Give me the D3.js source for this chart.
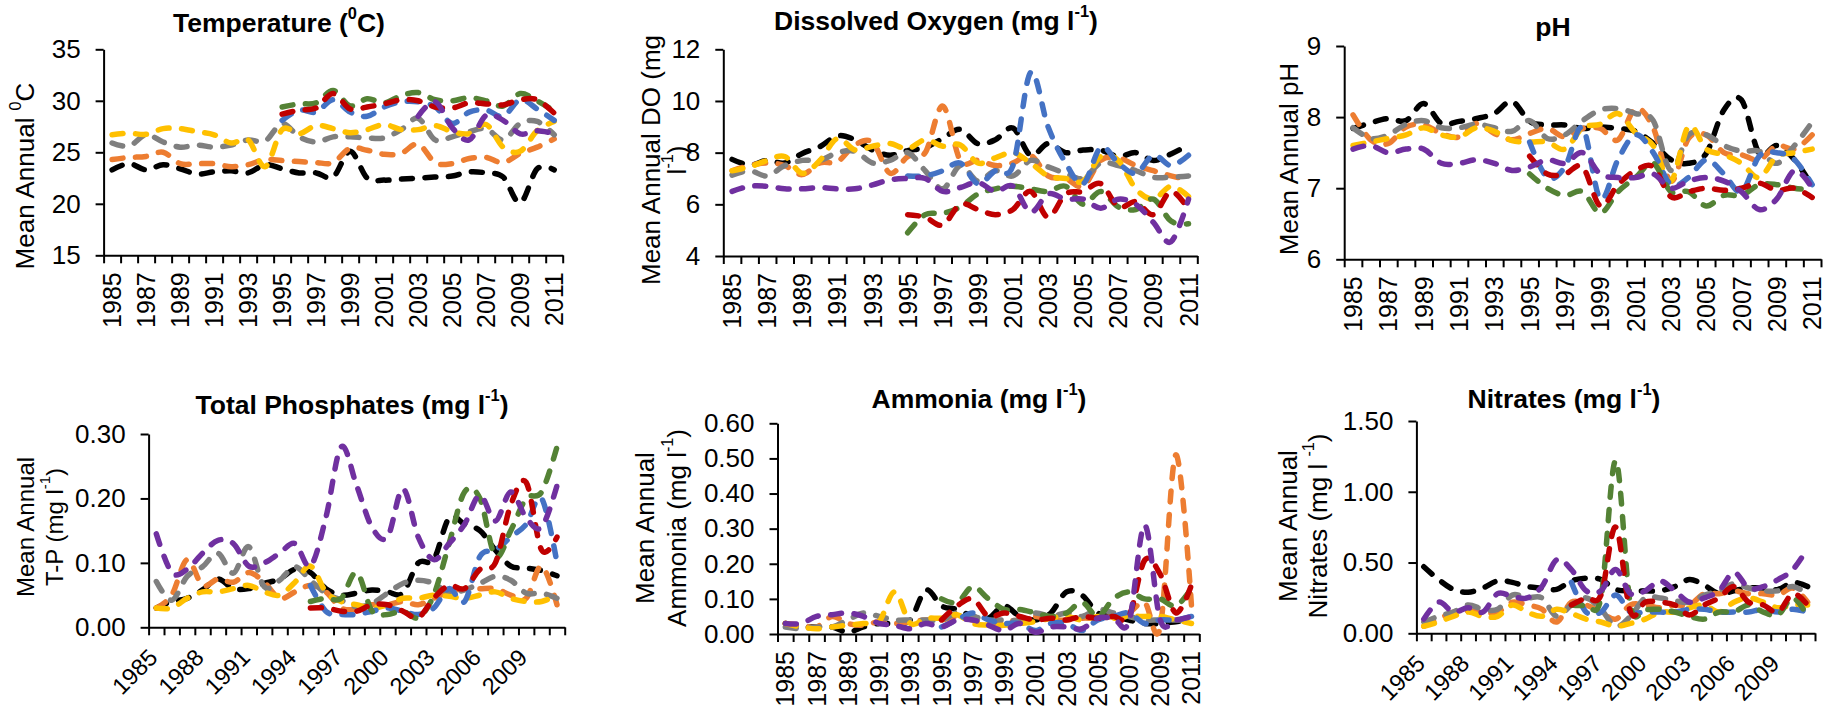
<!DOCTYPE html>
<html>
<head>
<meta charset="utf-8">
<script src="https://cdn.jsdelivr.net/npm/d3@7"></script>
<style>
  html, body { margin: 0; padding: 0; background: #fff; }
  svg { display: block; font-family: "Liberation Sans", Arial, sans-serif; }
</style>
</head>
<body>
<svg id="chart" width="1827" height="709"></svg>
<script>
// ---- categories ----
const years = [1985,1986,1987,1988,1989,1990,1991,1992,1993,1994,1995,1996,1997,1998,1999,
               2000,2001,2002,2003,2004,2005,2006,2007,2008,2009,2010,2011];
const N = null;

// ---- Temperature (°C) ----
const tempBlack  = [23.3,23.9,23.3,23.8,23.4,22.9,23.1,23.2,23.0,23.8, 23.4,23.0,23.0,22.6,25.1,22.5,22.3,22.4,22.5,22.6, 22.7,23.1,23.0,22.6,20.1,23.4,23.3];
const tempOrange = [24.3,24.5,24.6,25.0,23.9,23.9,23.9,23.6,23.8,24.3, 24.2,24.1,24.0,24.0,25.4,25.2,24.8,24.9,25.8,24.0, 23.9,24.4,24.5,24.0,24.9,25.5,26.3];
const tempGrey   = [25.9,25.6,26.7,26.0,25.5,25.7,25.5,25.7,26.2,26.1, 27.8,26.5,26.0,26.5,26.5,26.4,26.4,27.2,28.3,26.2, 26.5,27.0,27.3,26.2,27.8,28.0,26.7];
const tempYellow = [26.7,26.85,26.75,27.3,27.3,27.0,26.7,25.9,26.2,23.6, 27.2,26.8,27.6,27.3,26.9,27.2,27.7,27.2,27.2,27.6, 27.0,26.8,27.7,25.5,25.1,27.1,28.0];
const tempBlue   = [N,N,N,N,N,N,N,N,N,N, 28.1,29.1,28.9,30.1,28.9,28.5,29.4,29.9,29.9,29.4, 27.8,28.9,29.1,28.5,30.1,29.2,28.1];
const tempGreen  = [N,N,N,N,N,N,N,N,N,N, 29.4,29.7,29.8,31.0,29.5,30.2,29.8,30.5,30.8,30.1, 30.0,30.3,30.0,29.5,30.7,30.0,29.0];
const tempRed    = [N,N,N,N,N,N,N,N,N,N, 28.7,29.1,29.3,30.7,29.2,29.4,29.7,30.1,30.0,29.4, 29.3,29.8,29.7,29.6,30.1,30.1,28.8];
const tempPurple = [N,N,N,N,N,N,N,N,N,N, N,N,N,N,N,N,N,N,28.5,29.9, 27.4,26.2,28.6,28.1,26.8,27.1,26.8];

// ---- Dissolved oxygen (mg/l) ----
const doBlack  = [7.74,7.52,7.7,7.6,7.97,8.23,8.65,8.5,8.1,7.9, 8.08,8.2,8.55,8.9,8.35,8.5,8.95,7.9,8.35,8.0, 8.1,8.1,7.85,8.0,7.7,7.95,8.3];
const doOrange = [7.3,7.5,7.6,7.5,7.15,7.6,7.65,8.3,8.4,7.2, 7.85,8.0,9.8,7.7,7.7,7.5,7.6,7.9,7.1,7.0, 6.7,7.7,7.8,7.5,7.3,7.1,6.95];
const doGrey   = [7.13,7.3,7.1,7.5,7.7,7.7,8.0,8.05,7.6,7.7, 8.0,7.3,6.6,7.5,6.9,7.3,7.1,7.7,7.45,7.2, 7.0,7.6,7.5,7.3,7.05,7.05,7.1];
const doYellow = [7.3,7.45,7.7,7.85,7.2,7.7,8.55,8.1,8.25,8.35, 8.15,8.5,8.25,8.3,7.6,7.8,8.0,7.6,7.1,7.0, 6.9,7.85,7.7,6.6,6.2,6.7,6.3];
const doBlue   = [N,N,N,N,N,N,N,N,N,N, 7.1,7.1,7.3,7.6,6.8,7.3,7.5,11.1,9.0,7.6, 6.8,8.2,7.6,7.2,7.9,7.5,7.9];
const doGreen  = [N,N,N,N,N,N,N,N,N,N, 4.9,5.6,5.65,5.9,6.4,6.6,6.7,6.6,6.5,6.7, 6.0,6.5,5.9,5.8,6.2,5.35,5.25];
const doRed    = [N,N,N,N,N,N,N,N,N,N, 5.6,5.5,5.2,6.0,5.8,5.6,5.8,6.5,5.5,6.4, 6.5,6.8,5.9,6.1,5.6,6.5,5.8];
const doPurple = [6.5,6.7,6.7,6.6,6.6,6.65,6.6,6.6,6.75,6.95, 7.0,7.0,6.5,6.65,6.85,6.5,6.7,5.7,6.4,6.2, 6.2,5.85,6.2,6.0,5.3,4.55,6.2];

// ---- pH ----
const phBlack  = [7.84,7.92,7.98,7.95,8.19,7.91,7.94,7.98,8.05,8.22, 7.94,7.89,7.89,7.84,7.86,7.84,7.8,7.63,7.4,7.35, 7.49,8.1,8.24,7.49,7.6,7.4,7.03];
const phOrange = [8.03,7.68,7.63,7.86,7.89,7.77,7.72,7.91,7.77,7.68, 7.77,7.84,7.72,7.84,7.84,7.68,8.12,7.85,7.1,7.7, 7.75,7.5,7.47,7.4,7.6,7.55,7.75];
const phGrey   = [7.85,7.7,7.75,7.9,7.95,7.85,7.85,7.9,7.85,7.8, 7.95,7.7,7.75,7.95,8.1,8.12,8.05,7.95,7.25,7.75, 7.75,7.6,7.52,7.52,7.35,7.6,7.93];
const phYellow = [7.6,7.65,7.7,7.75,7.85,7.75,7.72,7.85,7.8,7.67, 7.65,7.65,7.55,7.85,7.9,8.05,7.78,7.6,7.1,7.87, 7.55,7.47,7.35,7.15,7.45,7.5,7.55];
const phBlue   = [N,N,N,N,N,N,N,N,N,N, 7.65,7.15,7.3,7.85,6.85,7.4,7.75,7.5,7.05,7.15, 7.4,7.2,6.95,7.45,7.5,7.4,7.05];
const phGreen  = [N,N,N,N,N,N,N,N,N,N, 7.2,7.0,6.9,6.95,6.65,6.95,7.15,7.35,6.95,6.95, 6.75,6.9,6.9,7.05,7.05,7.0,6.97];
const phRed    = [N,N,N,N,N,N,N,N,N,N, 7.45,7.2,7.2,7.3,6.75,7.05,7.25,7.3,6.88,6.95, 7.0,6.97,7.0,7.07,6.97,7.0,6.87];
const phPurple = [7.55,7.6,7.5,7.55,7.55,7.35,7.35,7.4,7.35,7.25, 7.3,7.4,7.35,7.5,7.2,7.15,7.15,7.2,7.0,7.1, 7.15,7.1,6.95,6.7,6.85,7.25,7.0];

// ---- Total phosphates (mg/l) ----
const tpBlack  = [0.03,0.04,0.045,0.058,0.075,0.06,0.06,0.068,0.075,0.09, 0.085,0.06,0.05,0.053,0.058,0.055,0.053,0.1,0.105,0.17, 0.16,0.15,0.12,0.095,0.092,0.088,0.08];
const tpOrange = [0.03,0.05,0.105,0.065,0.075,0.07,0.085,0.07,0.045,0.055, 0.065,0.055,0.03,0.028,0.035,0.035,0.04,0.035,0.045,0.055, 0.06,0.06,0.06,0.05,0.045,0.095,0.035];
const tpGrey   = [0.071,0.042,0.079,0.094,0.115,0.084,0.125,0.063,0.073,0.094, 0.073,0.053,0.042,0.032,0.037,0.053,0.068,0.073,0.068,0.053, 0.058,0.068,0.079,0.073,0.053,0.053,0.045];
const tpYellow = [0.03,0.03,0.045,0.055,0.055,0.06,0.065,0.055,0.05,0.07, 0.095,0.055,0.04,0.035,0.03,0.035,0.045,0.045,0.05,0.048, 0.045,0.05,0.055,0.045,0.04,0.04,0.05];
const tpBlue   = [N,N,N,N,N,N,N,N,N,N, 0.065,0.025,0.02,0.02,0.025,0.03,0.025,0.02,0.03,0.06, 0.04,0.11,0.12,0.14,0.16,0.2,0.1];
const tpGreen  = [N,N,N,N,N,N,N,N,N,N, 0.04,0.045,0.045,0.085,0.025,0.02,0.025,0.015,0.05,0.13, 0.21,0.2,0.11,0.15,0.2,0.21,0.28];
const tpRed    = [N,N,N,N,N,N,N,N,N,N, 0.03,0.03,0.025,0.025,0.035,0.035,0.025,0.015,0.045,0.065, 0.06,0.09,0.1,0.19,0.225,0.12,0.14];
const tpPurple = [0.145,0.085,0.09,0.115,0.135,0.13,0.095,0.1,0.115,0.13, 0.095,0.17,0.28,0.22,0.155,0.14,0.215,0.14,0.105,0.13, 0.16,0.205,0.165,0.21,0.17,0.155,0.22];

// ---- Ammonia (mg/l) ----
const amBlack  = [0.03,0.02,0.02,0.02,0.005,0.02,0.03,0.03,0.04,0.125, 0.08,0.07,0.05,0.045,0.08,0.05,0.04,0.06,0.12,0.11, 0.06,0.05,0.04,0.03,0.03,0.035,0.04];
const amOrange = [0.03,0.025,0.02,0.05,0.03,0.025,0.035,0.03,0.035,0.04, 0.04,0.05,0.04,0.03,0.035,0.04,0.05,0.04,0.04,0.045, 0.045,0.05,0.06,0.09,0.02,0.51,0.08];
const amGrey   = [0.02,0.015,0.02,0.02,0.04,0.06,0.05,0.04,0.04,0.04, 0.04,0.06,0.05,0.04,0.04,0.04,0.06,0.05,0.06,0.05, 0.07,0.06,0.05,0.04,0.04,0.04,0.04];
const amYellow = [0.03,0.02,0.015,0.02,0.025,0.03,0.035,0.12,0.03,0.045, 0.045,0.055,0.03,0.025,0.025,0.03,0.035,0.045,0.05,0.04, 0.05,0.045,0.05,0.05,0.05,0.04,0.03];
const amBlue   = [N,N,N,N,N,N,N,N,N,N, 0.02,0.04,0.06,0.04,0.03,0.03,0.01,0.03,0.03,0.01, 0.04,0.05,0.06,0.03,0.04,0.04,0.05];
const amGreen  = [N,N,N,N,N,N,N,N,N,N, 0.1,0.09,0.135,0.1,0.07,0.07,0.06,0.05,0.06,0.09, 0.05,0.1,0.12,0.1,0.1,0.08,0.13];
const amRed    = [N,N,N,N,N,N,N,N,N,N, 0.04,0.08,0.1,0.05,0.06,0.05,0.04,0.045,0.04,0.05, 0.045,0.05,0.05,0.21,0.17,0.06,0.14];
const amPurple = [0.03,0.03,0.05,0.055,0.06,0.05,0.03,0.025,0.015,0.03, 0.02,0.04,0.04,0.025,0.01,0.03,0.005,0.02,0.02,0.015, 0.045,0.045,0.035,0.31,0.04,0.04,0.05];

// ---- Nitrates (mg/l) ----
const niBlack  = [0.47,0.38,0.31,0.29,0.32,0.37,0.36,0.33,0.32,0.31, 0.37,0.39,0.38,0.31,0.3,0.3,0.3,0.33,0.38,0.34, 0.28,0.3,0.32,0.32,0.31,0.36,0.33];
const niOrange = [0.05,0.1,0.15,0.16,0.15,0.15,0.22,0.2,0.17,0.08, 0.22,0.2,0.15,0.1,0.2,0.2,0.18,0.2,0.2,0.28, 0.28,0.3,0.28,0.28,0.27,0.32,0.22];
const niGrey   = [0.08,0.12,0.15,0.2,0.17,0.17,0.27,0.25,0.25,0.12, 0.2,0.25,0.17,0.05,0.12,0.25,0.25,0.23,0.22,0.27, 0.3,0.35,0.32,0.3,0.3,0.33,0.28];
const niYellow = [0.05,0.08,0.12,0.15,0.12,0.12,0.2,0.15,0.12,0.17, 0.14,0.1,0.08,0.05,0.07,0.1,0.15,0.15,0.18,0.2, 0.15,0.22,0.25,0.22,0.18,0.2,0.2];
const niBlue   = [N,N,N,N,N,N,N,N,N,N, 0.36,0.15,0.15,0.27,0.15,0.15,0.15,0.15,0.17,0.17, 0.15,0.15,0.15,0.17,0.15,0.17,0.15];
const niGreen  = [N,N,N,N,N,N,N,N,N,N, 0.2,0.2,0.25,1.22,0.2,0.17,0.17,0.15,0.12,0.1, 0.15,0.15,0.2,0.15,0.13,0.25,0.12];
const niRed    = [N,N,N,N,N,N,N,N,N,N, 0.2,0.25,0.27,0.75,0.15,0.22,0.22,0.2,0.13,0.2, 0.25,0.33,0.22,0.2,0.15,0.28,0.2];
const niPurple = [0.1,0.22,0.15,0.18,0.15,0.28,0.26,0.25,0.33,0.52, 0.45,0.3,0.3,0.45,0.28,0.3,0.37,0.3,0.22,0.25, 0.3,0.43,0.32,0.33,0.38,0.45,0.6];

// ---- axis ticks and labels ----
const tempTicks = [15,20,25,30,35];
const doTicks   = [4,6,8,10,12];
const phTicks   = [6,7,8,9];
const tpTicks   = [0,0.1,0.2,0.3];
const amTicks   = [0,0.1,0.2,0.3,0.4,0.5,0.6];
const niTicks   = [0,0.5,1.0,1.5];
const everyOtherYear = [1985,1987,1989,1991,1993,1995,1997,1999,2001,2003,2005,2007,2009,2011];
const everyThirdYear = [1985,1988,1991,1994,1997,2000,2003,2006,2009];

// station colours, drawn in this order
const seriesColors = ["#000000","#ED7D31","#7F7F7F","#FFC000","#4472C4","#548235","#C00000","#7030A0"];

const panels = [
  { title: [{t:"Temperature ("},{t:"0",sup:true},{t:"C)"}], tx: 279, ty: 23,
    ytitle: [[{t:"Mean Annual "},{t:"0",sup:true},{t:"C"}]], ytx: [25], yty: 176, ytfs: 26,
    x0: 103.6, x1: 562.7, yTop: 49.3, yBot: 255.3, domain: [15,35], ticks: tempTicks, fmt: d3.format("d"),
    labels: everyOtherYear, rot: "v",
    series: [tempBlack,tempOrange,tempGrey,tempYellow,tempBlue,tempGreen,tempRed,tempPurple] },
  { title: [{t:"Dissolved Oxygen (mg l"},{t:"-1",sup:true},{t:")"}], tx: 936, ty: 21,
    ytitle: [[{t:"Mean Annual DO (mg"}],[{t:"l"},{t:"-1",sup:true},{t:")"}]], ytx: [651, 677], yty: 160, ytfs: 26,
    x0: 723.3, x1: 1197.3, yTop: 49.3, yBot: 256, domain: [4,12], ticks: doTicks, fmt: d3.format("d"),
    labels: everyOtherYear, rot: "v",
    series: [doBlack,doOrange,doGrey,doYellow,doBlue,doGreen,doRed,doPurple] },
  { title: [{t:"pH"}], tx: 1553, ty: 27,
    ytitle: [[{t:"Mean Annual pH"}]], ytx: [1289], yty: 159, ytfs: 26,
    x0: 1344.2, x1: 1821, yTop: 46, yBot: 259.3, domain: [6,9], ticks: phTicks, fmt: d3.format("d"),
    labels: everyOtherYear, rot: "v",
    series: [phBlack,phOrange,phGrey,phYellow,phBlue,phGreen,phRed,phPurple] },
  { title: [{t:"Total Phosphates (mg l"},{t:"-1",sup:true},{t:")"}], tx: 352, ty: 405,
    ytitle: [[{t:"Mean Annual"}],[{t:"T-P (mg l"},{t:"-1",sup:true},{t:")"}]], ytx: [25, 54], yty: 527, ytfs: 24,
    x0: 148.6, x1: 564.7, yTop: 434, yBot: 627.3, domain: [0,0.3], ticks: tpTicks, fmt: d3.format(".2f"),
    labels: everyThirdYear, rot: "d",
    series: [tpBlack,tpOrange,tpGrey,tpYellow,tpBlue,tpGreen,tpRed,tpPurple] },
  { title: [{t:"Ammonia (mg l"},{t:"-1",sup:true},{t:")"}], tx: 979, ty: 399,
    ytitle: [[{t:"Mean Annual"}],[{t:"Ammonia (mg l"},{t:"-1",sup:true},{t:")"}]], ytx: [645, 677], yty: 528, ytfs: 26,
    x0: 777.5, x1: 1199.3, yTop: 423.3, yBot: 634, domain: [0,0.6], ticks: amTicks, fmt: d3.format(".2f"),
    labels: everyOtherYear, rot: "v",
    series: [amBlack,amOrange,amGrey,amYellow,amBlue,amGreen,amRed,amPurple] },
  { title: [{t:"Nitrates (mg l"},{t:"-1",sup:true},{t:")"}], tx: 1564, ty: 399,
    ytitle: [[{t:"Mean Annual"}],[{t:"Nitrates (mg l "},{t:"-1",sup:true},{t:")"}]], ytx: [1288, 1318], yty: 526, ytfs: 26,
    x0: 1416.4, x1: 1815, yTop: 421, yBot: 633.3, domain: [0,1.5], ticks: niTicks, fmt: d3.format(".2f"),
    labels: everyThirdYear, rot: "d",
    series: [niBlack,niOrange,niGrey,niYellow,niBlue,niGreen,niRed,niPurple] }
];

const svg = d3.select("#chart");
svg.append("rect").attr("width", 1827).attr("height", 709).attr("fill", "#fff");

// text with superscript runs
function addRich(sel, parts, fs) {
  let shift = 0;
  parts.forEach(p => {
    const t = sel.append("tspan").text(p.t);
    if (p.sup) {
      t.attr("font-size", fs * 0.62).attr("dy", -fs * 0.38);
      shift = fs * 0.38;
    } else if (shift) {
      t.attr("dy", shift);
      shift = 0;
    }
  });
}

const TICK_FS = 26;       // value-axis numbers
const VLABEL_FS = 25;     // vertical year labels
const DLABEL_FS = 23.5;   // slanted year labels
const TITLE_FS = 26.5;

panels.forEach(p => {
  const g = svg.append("g");
  const band = d3.scaleBand().domain(years).range([p.x0, p.x1]);
  const edge = d3.scaleLinear().domain([0, years.length]).range([p.x0, p.x1]);
  const y = d3.scaleLinear().domain(p.domain).range([p.yBot, p.yTop]);

  // value axis
  const ya = g.append("g")
    .attr("transform", `translate(${p.x0},0)`)
    .call(d3.axisLeft(y).tickValues(p.ticks).tickFormat(p.fmt).tickSize(8).tickSizeOuter(0).tickPadding(15));
  ya.attr("font-size", TICK_FS).attr("font-family", null);
  ya.selectAll("path, line").attr("stroke", "#000").attr("stroke-width", 2);
  ya.selectAll("text").attr("fill", "#000");

  // category axis: tick marks between categories
  const xa = g.append("g")
    .attr("transform", `translate(0,${p.yBot})`)
    .call(d3.axisBottom(edge).tickValues(d3.range(years.length + 1)).tickFormat("").tickSize(8).tickSizeOuter(0));
  xa.selectAll("path, line").attr("stroke", "#000").attr("stroke-width", 2);

  // category labels
  const xl = g.append("g")
    .attr("transform", `translate(0,${p.yBot})`)
    .call(d3.axisBottom(band).tickValues(p.labels).tickFormat(d3.format("d")).tickSize(0).tickPadding(0));
  xl.attr("font-size", p.rot === "v" ? VLABEL_FS : DLABEL_FS).attr("font-family", null);
  xl.select(".domain").remove();
  xl.selectAll("text")
    .attr("y", null).attr("dy", null)
    .attr("fill", "#000")
    .attr("text-anchor", "end")
    .attr("dominant-baseline", "central")
    .attr("transform", p.rot === "v" ? "translate(0,17) rotate(-90)" : "translate(-3,26) rotate(-45)");

  // station lines
  const line = d3.line()
    .defined(d => d.v != null)
    .x(d => band(d.year) + band.bandwidth() / 2)
    .y(d => y(d.v))
    .curve(d3.curveCardinal.tension(0));

  p.series.forEach((vals, i) => {
    g.append("path")
      .datum(years.map((yr, j) => ({ year: yr, v: vals[j] })))
      .attr("d", line)
      .attr("fill", "none")
      .attr("stroke", seriesColors[i])
      .attr("stroke-width", 5.5)
      .attr("stroke-dasharray", "11,12.5")
      .attr("stroke-linecap", "round")
      .attr("stroke-linejoin", "round");
  });

  // panel title
  const tt = svg.append("text")
    .attr("x", p.tx).attr("y", p.ty)
    .attr("text-anchor", "middle")
    .attr("dominant-baseline", "central")
    .attr("font-weight", "bold")
    .attr("font-size", TITLE_FS)
    .attr("fill", "#000");
  addRich(tt, p.title, TITLE_FS);

  // value axis title (one or two lines)
  p.ytitle.forEach((parts, k) => {
    const at = svg.append("text")
      .attr("transform", `translate(${p.ytx[k]},${p.yty}) rotate(-90)`)
      .attr("text-anchor", "middle")
      .attr("dominant-baseline", "central")
      .attr("font-size", p.ytfs)
      .attr("fill", "#000");
    addRich(at, parts, p.ytfs);
  });
});
</script>
</body>
</html>
